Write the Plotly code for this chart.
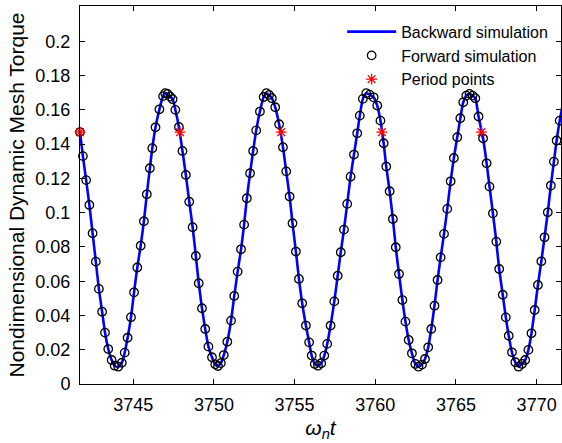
import plotly.graph_objects as go

# Forward simulation samples
t_fwd = [
    3741.70, 3741.88, 3742.08, 3742.28, 3742.48, 3742.68, 3742.87, 3743.07, 3743.25, 3743.45,
    3743.66, 3743.85, 3744.07, 3744.29, 3744.47, 3744.65, 3744.86, 3745.05, 3745.25, 3745.46,
    3745.66, 3745.84, 3746.03, 3746.18, 3746.38, 3746.62, 3746.85, 3746.98, 3747.13, 3747.29,
    3747.44, 3747.61, 3747.83,
    3748.05, 3748.26, 3748.47, 3748.68, 3748.88, 3749.06, 3749.26, 3749.46, 3749.66, 3749.88,
    3750.08, 3750.25, 3750.43, 3750.61, 3750.83, 3751.06, 3751.26, 3751.47, 3751.68, 3751.87,
    3752.04, 3752.24, 3752.43, 3752.62, 3752.85, 3753.08, 3753.25, 3753.42, 3753.59, 3753.80,
    3754.04,
    3754.28, 3754.48, 3754.69, 3754.87, 3755.08, 3755.27, 3755.47, 3755.70, 3755.90, 3756.06,
    3756.25, 3756.45, 3756.65, 3756.84, 3757.02, 3757.23, 3757.46, 3757.67, 3757.86, 3758.06,
    3758.26, 3758.47, 3758.68, 3758.88, 3759.04, 3759.23, 3759.44, 3759.65, 3759.90, 3760.12,
    3760.32,
    3760.52, 3760.68, 3760.89, 3761.09, 3761.27, 3761.47, 3761.68, 3761.87, 3762.07, 3762.27,
    3762.48, 3762.68, 3762.89, 3763.08, 3763.28, 3763.47, 3763.67, 3763.86, 3764.05, 3764.26,
    3764.46, 3764.67, 3764.87, 3765.08, 3765.27, 3765.45, 3765.64, 3765.84, 3766.03, 3766.20,
    3766.40,
    3766.68, 3766.90, 3767.08, 3767.29, 3767.50, 3767.68, 3767.90, 3768.09, 3768.27, 3768.47,
    3768.68, 3768.88, 3769.09, 3769.29, 3769.49, 3769.68, 3769.88, 3770.08, 3770.29, 3770.49,
    3770.69, 3770.88, 3771.07, 3771.24, 3771.43,
]
y_fwd = [
    0.1470, 0.1330, 0.1190, 0.1045, 0.0880, 0.0714, 0.0555, 0.0422, 0.0300, 0.0204,
    0.0140, 0.0107, 0.0101, 0.0124, 0.0183, 0.0270, 0.0390, 0.0535, 0.0680, 0.0807,
    0.0950, 0.1107, 0.1259, 0.1376, 0.1498, 0.1603, 0.1680, 0.1697, 0.1693, 0.1677,
    0.1662, 0.1600, 0.1500,
    0.1360, 0.1220, 0.1064, 0.0915, 0.0747, 0.0588, 0.0442, 0.0321, 0.0218, 0.0156,
    0.0115, 0.0105, 0.0122, 0.0169, 0.0247, 0.0370, 0.0514, 0.0656, 0.0786, 0.0930,
    0.1084, 0.1230, 0.1360, 0.1480, 0.1590, 0.1675, 0.1697, 0.1687, 0.1668, 0.1615,
    0.1516,
    0.1382, 0.1241, 0.1094, 0.0938, 0.0773, 0.0613, 0.0471, 0.0341, 0.0243, 0.0166,
    0.0117, 0.0107, 0.0121, 0.0166, 0.0234, 0.0341, 0.0482, 0.0632, 0.0769, 0.0901,
    0.1051, 0.1210, 0.1339, 0.1463, 0.1566, 0.1664, 0.1697, 0.1689, 0.1673, 0.1625,
    0.1537,
    0.1405, 0.1269, 0.1125, 0.0963, 0.0798, 0.0642, 0.0490, 0.0364, 0.0257, 0.0179,
    0.0117, 0.0101, 0.0113, 0.0146, 0.0214, 0.0321, 0.0457, 0.0607, 0.0739, 0.0876,
    0.1022, 0.1183, 0.1319, 0.1440, 0.1551, 0.1644, 0.1683, 0.1693, 0.1683, 0.1668,
    0.1561,
    0.1434, 0.1288, 0.1152, 0.0996, 0.0831, 0.0671, 0.0521, 0.0389, 0.0282, 0.0185,
    0.0127, 0.0101, 0.0117, 0.0140, 0.0199, 0.0296, 0.0432, 0.0578, 0.0716, 0.0856,
    0.1002, 0.1158, 0.1298, 0.1421, 0.1537,
]

# Backward simulation follows the same path and runs past the right edge
t_back = t_fwd + [3771.62]
y_back = y_fwd + [0.1630]

# Period points
t_period = [3741.70, 3747.90, 3754.17, 3760.41, 3766.58]
y_period = [0.147, 0.147, 0.147, 0.147, 0.147]

x_ticks = [3745, 3750, 3755, 3760, 3765, 3770]
y_ticks = [0, 0.02, 0.04, 0.06, 0.08, 0.1, 0.12, 0.14, 0.16, 0.18, 0.2]
y_tick_text = ["0", "0.02", "0.04", "0.06", "0.08", "0.1", "0.12", "0.14", "0.16", "0.18", "0.2"]

FONT = "Liberation Sans, Arial, sans-serif"

fig = go.Figure()
fig.add_trace(go.Scatter(
    x=t_back, y=y_back, mode="lines", name="Backward simulation",
    line=dict(color="#0000FF", width=2.6, shape="spline", smoothing=0.6),
))
fig.add_trace(go.Scatter(
    x=t_fwd, y=y_fwd, mode="markers", name="Forward simulation", cliponaxis=False,
    marker=dict(symbol="circle-open", size=8.5, color="black", line=dict(color="black", width=1.3)),
))
fig.add_trace(go.Scatter(
    x=t_period, y=y_period, mode="markers", name="Period points", cliponaxis=False,
    marker=dict(symbol="asterisk-open", size=9, color="red", line=dict(color="red", width=1.3)),
))

axis_common = dict(
    showline=True, linecolor="black", linewidth=1, mirror="ticks",
    ticks="inside", ticklen=5, tickcolor="black", tickwidth=1,
    showgrid=False, zeroline=False,
    tickfont=dict(family=FONT, size=18, color="black"),
)

fig.update_layout(
    width=562, height=443,
    margin=dict(l=80, r=1, t=6, b=59),
    paper_bgcolor="white", plot_bgcolor="white",
    font=dict(family=FONT, color="black"),
    showlegend=True,
    legend=dict(
        x=0.545, y=0.977, xanchor="left", yanchor="top",
        bgcolor="rgba(255,255,255,0)", borderwidth=0,
        font=dict(family=FONT, size=16, color="black"),
        itemwidth=49, tracegroupgap=0,
    ),
    xaxis=dict(
        range=[3741.70, 3771.51], tickvals=x_ticks,
        title=dict(text="<i>ω<sub>n</sub>t</i>", font=dict(family=FONT, size=21), standoff=6),
        ticklabelstandoff=4,
        **axis_common,
    ),
    yaxis=dict(
        range=[0, 0.2206], tickvals=y_ticks, ticktext=y_tick_text,
        title=dict(text="Nondimensional Dynamic Mesh Torque", font=dict(family=FONT, size=21), standoff=5),
        ticklabelstandoff=5,
        **axis_common,
    ),
)

fig.write_html("out.html")
